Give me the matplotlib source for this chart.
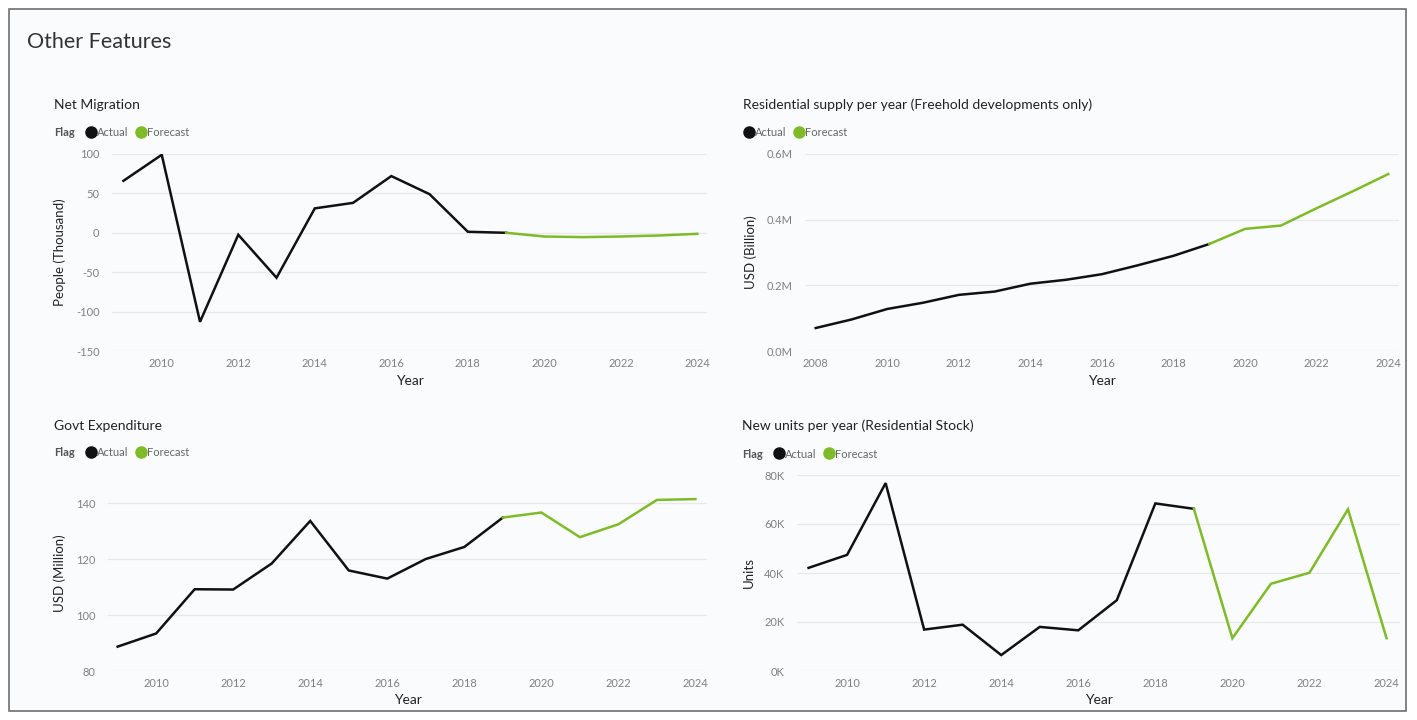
import numpy as np
import matplotlib.pyplot as plt
from matplotlib.lines import Line2D
from matplotlib.patches import Rectangle
from matplotlib.ticker import FuncFormatter

plt.rcParams['font.family'] = ['Lato', 'DejaVu Sans']

green = "#7FBA28"
black = "#111111"

# Net Migration (thousand people)
mig_act_years = [2009, 2010, 2011, 2012, 2013, 2014, 2015, 2016, 2017, 2018, 2019]
mig_act = [66, 99, -113, -2.5, -57, 31, 38, 72, 49, 1.3, 0]
mig_fc_years = [2019, 2020, 2021, 2022, 2023, 2024]
mig_fc = [0, -4.7, -5.5, -4.7, -3.4, -1.3]

# Residential supply per year (M)
sup_act_years = list(range(2008, 2020))
sup_act = [0.070, 0.096, 0.128, 0.147, 0.171, 0.181, 0.205, 0.217, 0.234, 0.261, 0.290, 0.326]
sup_fc_years = [2019, 2020, 2021, 2022, 2023, 2024]
sup_fc = [0.326, 0.372, 0.382, 0.435, 0.486, 0.539]

# Govt Expenditure (USD million)
gov_act_years = list(range(2009, 2020))
gov_act = [88.7, 93.4, 109.2, 109.1, 118.4, 133.6, 115.9, 113.0, 120.0, 124.3, 134.8]
gov_fc_years = [2019, 2020, 2021, 2022, 2023, 2024]
gov_fc = [134.8, 136.6, 127.8, 132.4, 141.1, 141.4]

# New units per year (K)
uni_act_years = list(range(2009, 2020))
uni_act = [42.1, 47.4, 76.7, 16.9, 18.9, 6.5, 18.0, 16.6, 28.9, 68.4, 66.2]
uni_fc_years = [2019, 2020, 2021, 2022, 2023, 2024]
uni_fc = [66.2, 13.4, 35.6, 40.1, 66.0, 13.4]

W, H = 1417, 720
fig = plt.figure(figsize=(W / 100, H / 100), dpi=100)
fig.patch.set_facecolor("white")


def fx(x):
    return x / W


def fy(y):
    return 1 - y / H


# background panel with border
fig.add_artist(Rectangle((fx(9), fy(711)), fx(1397), 702 / H, transform=fig.transFigure,
                         facecolor="#F9FBFC", edgecolor="#6E6E6E", linewidth=1.2, zorder=-5))
fig.text(fx(27), fy(42), "Other Features", fontsize=15.5, color="#333333", va="center",
         ha="left")


def panel(box, title, ylabel, ya, yv, fa, fv, xlim, ylim, yticks, xticks, fmt,
          title_x, leg_x, flag=True, leg_y=132, title_y=104):
    x0, y0, x1, y1 = box
    ax = fig.add_axes([fx(x0), fy(y1), fx(x1 - x0), (y1 - y0) / H])
    ax.set_facecolor("none")
    ax.plot(ya, yv, color=black, lw=1.8, solid_joinstyle="miter")
    ax.plot(fa, fv, color=green, lw=1.8, solid_joinstyle="miter")
    ax.set_xlim(*xlim)
    ax.set_ylim(*ylim)
    ax.set_yticks(yticks)
    ax.set_xticks(xticks)
    ax.yaxis.set_major_formatter(FuncFormatter(fmt))
    ax.grid(axis="y", color="#E6E8EA", lw=0.9)
    ax.set_axisbelow(True)
    for s in ax.spines.values():
        s.set_visible(False)
    ax.tick_params(length=0, labelsize=8, labelcolor="#808080")
    ax.tick_params(axis="y", pad=9)
    ax.tick_params(axis="x", pad=5)
    ax.set_xlabel("Year", fontsize=10, color="#222222", labelpad=4)
    ax.set_ylabel(ylabel, fontsize=9.5, color="#222222", labelpad=7)
    fig.text(fx(title_x), fy(title_y), title, fontsize=10, color="#222222",
             va="center_baseline")
    lx = leg_x
    if flag:
        fig.text(fx(lx), fy(leg_y), "Flag", fontsize=8, color="#555555",
                 fontweight="bold", va="center_baseline")
        lx += 37
    for lab, col, w in [("Actual", black, 50), ("Forecast", green, 60)]:
        fig.add_artist(Line2D([fx(lx)], [fy(leg_y)], marker="o", markersize=8,
                              color=col, transform=fig.transFigure))
        fig.text(fx(lx + 6), fy(leg_y), lab, fontsize=8, color="#666666",
                 va="center_baseline")
        lx += w
    return ax


panel((112, 154, 707, 351), "Net Migration", "People (Thousand)",
      mig_act_years, mig_act, mig_fc_years, mig_fc,
      (2008.7, 2024.25), (-150, 100), [-150, -100, -50, 0, 50, 100],
      list(range(2010, 2025, 2)), lambda v, p: f"{v:.0f}", 54, 54)

panel((805, 154, 1399, 351), "Residential supply per year (Freehold developments only)",
      "USD (Billion)", sup_act_years, sup_act, sup_fc_years, sup_fc,
      (2007.7, 2024.3), (0, 0.6), [0, 0.2, 0.4, 0.6],
      list(range(2008, 2025, 2)), lambda v, p: f"{v:.1f}M", 743, 749, flag=False)

panel((108, 475, 707, 671), "Govt Expenditure", "USD (Million)",
      gov_act_years, gov_act, gov_fc_years, gov_fc,
      (2008.75, 2024.3), (80, 150), [80, 100, 120, 140],
      list(range(2010, 2025, 2)), lambda v, p: f"{v:.0f}", 54, 54,
      leg_y=452, title_y=425)

panel((797, 475, 1400, 671), "New units per year (Residential Stock)", "Units",
      uni_act_years, uni_act, uni_fc_years, uni_fc,
      (2008.7, 2024.35), (0, 80), [0, 20, 40, 60, 80],
      list(range(2010, 2025, 2)), lambda v, p: f"{v:.0f}K", 742, 742,
      leg_y=453, title_y=425)

fig.savefig("out.png", dpi=100, facecolor=fig.get_facecolor())
